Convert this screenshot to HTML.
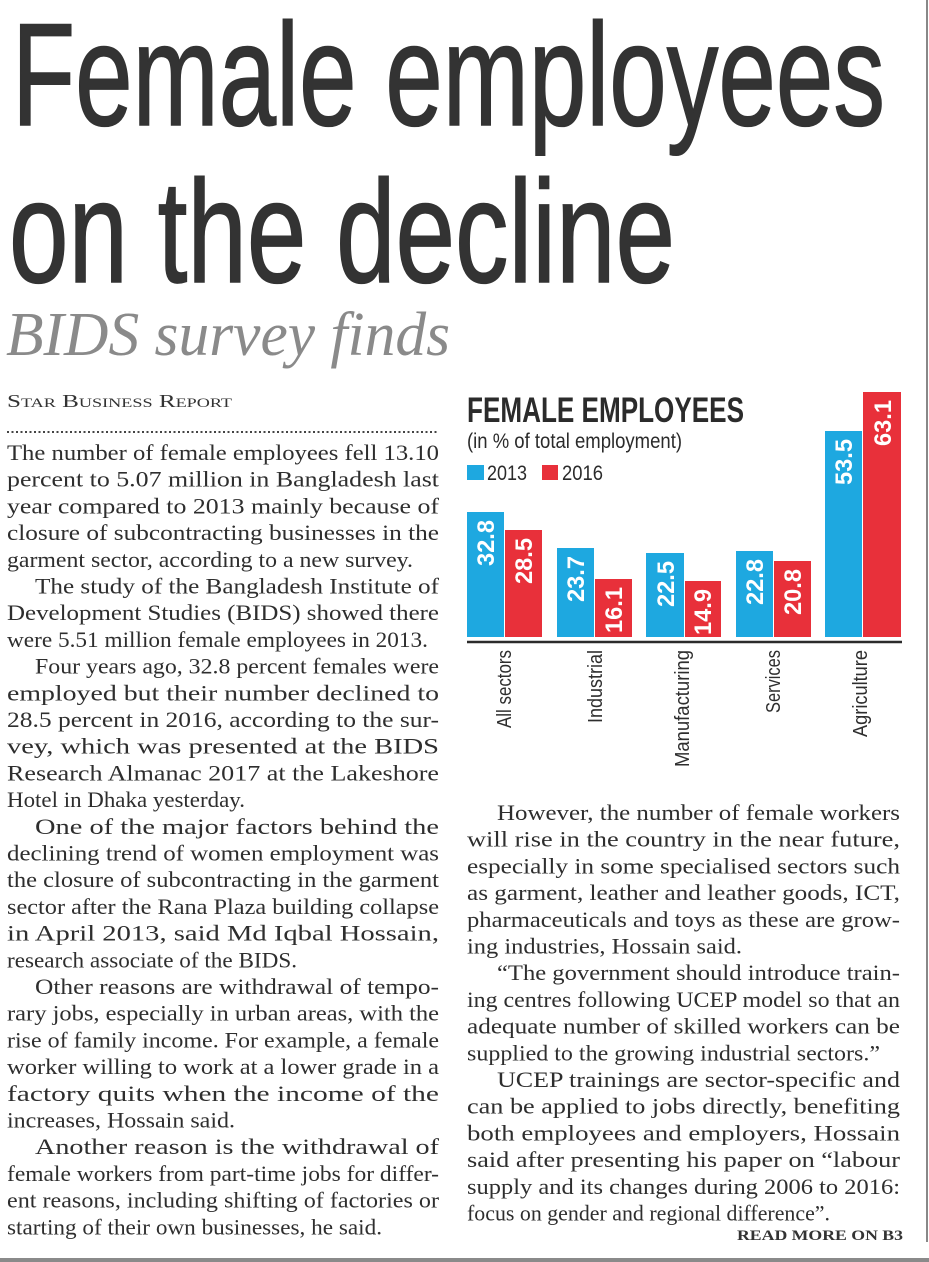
<!DOCTYPE html>
<html><head><meta charset="utf-8"><style>
html,body{margin:0;padding:0;background:#fff;}
svg{display:block;}
.b{font-family:"Liberation Serif",serif;font-size:22px;fill:#2e2e2e;}
.v{font-family:"Liberation Sans",sans-serif;font-weight:bold;font-size:24px;fill:#fff;}
.c{font-family:"Liberation Sans",sans-serif;font-size:20px;fill:#2e2e2e;}
</style></head><body>
<svg width="929" height="1262" viewBox="0 0 929 1262" xmlns="http://www.w3.org/2000/svg">
<rect width="929" height="1262" fill="#fff"/>
<line x1="927" y1="0" x2="927" y2="1242" stroke="#888" stroke-width="2"/>
<rect x="0" y="1258" width="929" height="4" fill="#8a8a8a"/>
<g font-family="Liberation Sans, sans-serif" fill="#333" stroke="#333" stroke-width="1.5">
<text x="12" y="125" font-size="146" textLength="873" lengthAdjust="spacingAndGlyphs">Female employees</text>
<text x="9" y="282" font-size="146" textLength="666" lengthAdjust="spacingAndGlyphs">on the decline</text>
</g>
<text x="6" y="355" font-family="Liberation Serif, serif" font-style="italic" font-size="62" fill="#8a8a8a" textLength="444" lengthAdjust="spacingAndGlyphs">BIDS survey finds</text>
<text x="7" y="407" font-family="Liberation Serif, serif" font-size="18" style="font-variant:small-caps" fill="#333" textLength="225" lengthAdjust="spacingAndGlyphs">Star Business Report</text>
<line x1="7" y1="432" x2="439" y2="432" stroke="#444" stroke-width="2" stroke-dasharray="2 2.5"/>

<g class="b">
<text x="7" y="460" textLength="432" lengthAdjust="spacingAndGlyphs">The number of female employees fell 13.10</text>
<text x="7" y="486.7" textLength="432" lengthAdjust="spacingAndGlyphs">percent to 5.07 million in Bangladesh last</text>
<text x="7" y="513.4" textLength="432" lengthAdjust="spacingAndGlyphs">year compared to 2013 mainly because of</text>
<text x="7" y="540.1" textLength="432" lengthAdjust="spacingAndGlyphs">closure of subcontracting businesses in the</text>
<text x="7" y="566.8" textLength="406" lengthAdjust="spacingAndGlyphs">garment sector, according to a new survey.</text>
<text x="35" y="593.5" textLength="404" lengthAdjust="spacingAndGlyphs">The study of the Bangladesh Institute of</text>
<text x="7" y="620.2" textLength="432" lengthAdjust="spacingAndGlyphs">Development Studies (BIDS) showed there</text>
<text x="7" y="646.9" textLength="421" lengthAdjust="spacingAndGlyphs">were 5.51 million female employees in 2013.</text>
<text x="35" y="673.6" textLength="404" lengthAdjust="spacingAndGlyphs">Four years ago, 32.8 percent females were</text>
<text x="7" y="700.3" textLength="432" lengthAdjust="spacingAndGlyphs">employed but their number declined to</text>
<text x="7" y="727" textLength="432" lengthAdjust="spacingAndGlyphs">28.5 percent in 2016, according to the sur-</text>
<text x="7" y="753.7" textLength="432" lengthAdjust="spacingAndGlyphs">vey, which was presented at the BIDS</text>
<text x="7" y="780.4" textLength="432" lengthAdjust="spacingAndGlyphs">Research Almanac 2017 at the Lakeshore</text>
<text x="7" y="807.1" textLength="238" lengthAdjust="spacingAndGlyphs">Hotel in Dhaka yesterday.</text>
<text x="35" y="833.8" textLength="404" lengthAdjust="spacingAndGlyphs">One of the major factors behind the</text>
<text x="7" y="860.5" textLength="432" lengthAdjust="spacingAndGlyphs">declining trend of women employment was</text>
<text x="7" y="887.2" textLength="432" lengthAdjust="spacingAndGlyphs">the closure of subcontracting in the garment</text>
<text x="7" y="913.9" textLength="432" lengthAdjust="spacingAndGlyphs">sector after the Rana Plaza building collapse</text>
<text x="7" y="940.6" textLength="432" lengthAdjust="spacingAndGlyphs">in April 2013, said Md Iqbal Hossain,</text>
<text x="7" y="967.3" textLength="290" lengthAdjust="spacingAndGlyphs">research associate of the BIDS.</text>
<text x="35" y="994" textLength="404" lengthAdjust="spacingAndGlyphs">Other reasons are withdrawal of tempo-</text>
<text x="7" y="1020.7" textLength="432" lengthAdjust="spacingAndGlyphs">rary jobs, especially in urban areas, with the</text>
<text x="7" y="1047.4" textLength="432" lengthAdjust="spacingAndGlyphs">rise of family income. For example, a female</text>
<text x="7" y="1074.1" textLength="432" lengthAdjust="spacingAndGlyphs">worker willing to work at a lower grade in a</text>
<text x="7" y="1100.8" textLength="432" lengthAdjust="spacingAndGlyphs">factory quits when the income of the</text>
<text x="7" y="1127.5" textLength="228" lengthAdjust="spacingAndGlyphs">increases, Hossain said.</text>
<text x="35" y="1154.2" textLength="404" lengthAdjust="spacingAndGlyphs">Another reason is the withdrawal of</text>
<text x="7" y="1180.9" textLength="432" lengthAdjust="spacingAndGlyphs">female workers from part-time jobs for differ-</text>
<text x="7" y="1207.6" textLength="432" lengthAdjust="spacingAndGlyphs">ent reasons, including shifting of factories or</text>
<text x="7" y="1234.3" textLength="375" lengthAdjust="spacingAndGlyphs">starting of their own businesses, he said.</text>

<text x="497" y="820" textLength="403" lengthAdjust="spacingAndGlyphs">However, the number of female workers</text>
<text x="467" y="846.7" textLength="433" lengthAdjust="spacingAndGlyphs">will rise in the country in the near future,</text>
<text x="467" y="873.4" textLength="433" lengthAdjust="spacingAndGlyphs">especially in some specialised sectors such</text>
<text x="467" y="900.1" textLength="433" lengthAdjust="spacingAndGlyphs">as garment, leather and leather goods, ICT,</text>
<text x="467" y="926.8" textLength="433" lengthAdjust="spacingAndGlyphs">pharmaceuticals and toys as these are grow-</text>
<text x="467" y="953.5" textLength="275" lengthAdjust="spacingAndGlyphs">ing industries, Hossain said.</text>
<text x="497" y="980.2" textLength="403" lengthAdjust="spacingAndGlyphs">“The government should introduce train-</text>
<text x="467" y="1006.9" textLength="433" lengthAdjust="spacingAndGlyphs">ing centres following UCEP model so that an</text>
<text x="467" y="1033.6" textLength="433" lengthAdjust="spacingAndGlyphs">adequate number of skilled workers can be</text>
<text x="467" y="1060.3" textLength="413" lengthAdjust="spacingAndGlyphs">supplied to the growing industrial sectors.”</text>
<text x="497" y="1087" textLength="403" lengthAdjust="spacingAndGlyphs">UCEP trainings are sector-specific and</text>
<text x="467" y="1113.7" textLength="433" lengthAdjust="spacingAndGlyphs">can be applied to jobs directly, benefiting</text>
<text x="467" y="1140.4" textLength="433" lengthAdjust="spacingAndGlyphs">both employees and employers, Hossain</text>
<text x="467" y="1167.1" textLength="433" lengthAdjust="spacingAndGlyphs">said after presenting his paper on “labour</text>
<text x="467" y="1193.8" textLength="433" lengthAdjust="spacingAndGlyphs">supply and its changes during 2006 to 2016:</text>
<text x="467" y="1220.5" textLength="363" lengthAdjust="spacingAndGlyphs">focus on gender and regional difference”.</text>
</g>
<text x="737" y="1240" font-family="Liberation Serif, serif" font-weight="bold" font-size="15" fill="#333" textLength="166" lengthAdjust="spacingAndGlyphs">READ MORE ON B3</text>

<text x="467" y="422" font-family="Liberation Sans, sans-serif" font-weight="bold" font-size="35" fill="#2b2b2b" textLength="277" lengthAdjust="spacingAndGlyphs">FEMALE EMPLOYEES</text>
<text x="467" y="448" font-family="Liberation Sans, sans-serif" font-size="21" fill="#2b2b2b" textLength="215" lengthAdjust="spacingAndGlyphs">(in % of total employment)</text>
<rect x="467" y="465" width="17" height="15" fill="#1ea8e0"/>
<text x="487" y="480" font-family="Liberation Sans, sans-serif" font-size="21" fill="#2b2b2b" textLength="40" lengthAdjust="spacingAndGlyphs">2013</text>
<rect x="542" y="465" width="16" height="15" fill="#e8303a"/>
<text x="562" y="480" font-family="Liberation Sans, sans-serif" font-size="21" fill="#2b2b2b" textLength="41" lengthAdjust="spacingAndGlyphs">2016</text>

<g>
<rect x="467" y="512" width="37" height="125" fill="#1ea8e0"/>
<rect x="505" y="530" width="37" height="107" fill="#e8303a"/>
<rect x="557" y="548" width="37" height="89" fill="#1ea8e0"/>
<rect x="595" y="579" width="37" height="58" fill="#e8303a"/>
<rect x="646" y="553" width="38" height="84" fill="#1ea8e0"/>
<rect x="685" y="581" width="36" height="56" fill="#e8303a"/>
<rect x="736" y="551" width="37" height="86" fill="#1ea8e0"/>
<rect x="774" y="561" width="37" height="76" fill="#e8303a"/>
<rect x="825" y="431" width="37" height="206" fill="#1ea8e0"/>
<rect x="863" y="392" width="38" height="245" fill="#e8303a"/>
</g>
<line x1="467" y1="642" x2="902" y2="642" stroke="#2b2b2b" stroke-width="2.5"/>
<g class="v" text-anchor="end">
<text transform="translate(494,520) rotate(-90)" textLength="46" lengthAdjust="spacingAndGlyphs">32.8</text>
<text transform="translate(532,538) rotate(-90)" textLength="46" lengthAdjust="spacingAndGlyphs">28.5</text>
<text transform="translate(584,556) rotate(-90)" textLength="46" lengthAdjust="spacingAndGlyphs">23.7</text>
<text transform="translate(622,587) rotate(-90)" textLength="46" lengthAdjust="spacingAndGlyphs">16.1</text>
<text transform="translate(674,561) rotate(-90)" textLength="46" lengthAdjust="spacingAndGlyphs">22.5</text>
<text transform="translate(711,589) rotate(-90)" textLength="46" lengthAdjust="spacingAndGlyphs">14.9</text>
<text transform="translate(763,559) rotate(-90)" textLength="46" lengthAdjust="spacingAndGlyphs">22.8</text>
<text transform="translate(801,569) rotate(-90)" textLength="46" lengthAdjust="spacingAndGlyphs">20.8</text>
<text transform="translate(852,439) rotate(-90)" textLength="46" lengthAdjust="spacingAndGlyphs">53.5</text>
<text transform="translate(891,400) rotate(-90)" textLength="46" lengthAdjust="spacingAndGlyphs">63.1</text>
</g>
<g class="c" text-anchor="end">
<text transform="translate(511,650) rotate(-90)" textLength="78" lengthAdjust="spacingAndGlyphs">All sectors</text>
<text transform="translate(602,650) rotate(-90)" textLength="73" lengthAdjust="spacingAndGlyphs">Industrial</text>
<text transform="translate(689,650) rotate(-90)" textLength="117" lengthAdjust="spacingAndGlyphs">Manufacturing</text>
<text transform="translate(780,650) rotate(-90)" textLength="63" lengthAdjust="spacingAndGlyphs">Services</text>
<text transform="translate(867,650) rotate(-90)" textLength="87" lengthAdjust="spacingAndGlyphs">Agriculture</text>
</g>
</svg>
</body></html>
